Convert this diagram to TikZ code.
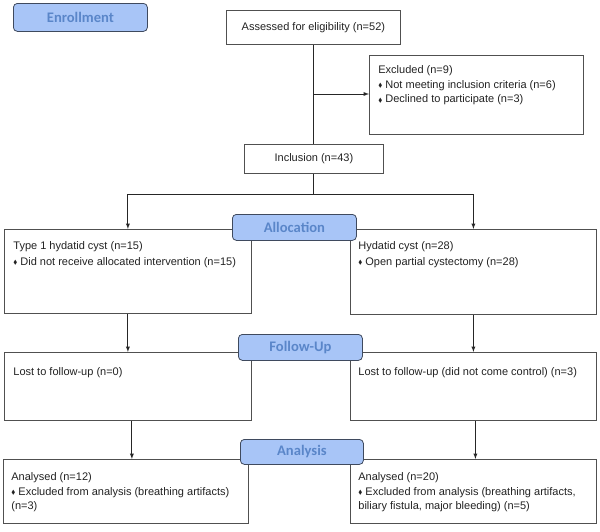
\documentclass[tikz,border=0pt]{standalone}
\usepackage{amssymb}
\usepackage{fontspec}
\setmainfont{Liberation Sans}
\newfontfamily\labelfont{Carlito}
\usetikzlibrary{arrows}
\usetikzlibrary{positioning}
\definecolor{stagefill}{HTML}{A8C5F7}
\definecolor{stagetext}{HTML}{5A86C9}
\definecolor{stageline}{HTML}{3F4A5E}
\definecolor{boxline}{HTML}{505050}
\definecolor{inktext}{HTML}{222222}
\newcommand{\itemmark}{\raisebox{0.15ex}{\scalebox{0.55}{$\blacklozenge$}}\hspace{3pt}}
\newcommand{\topbox}[3]{\parbox[t][#2][t]{#1}{#3}}

\begin{document}
\begin{tikzpicture}[x=1pt, y=-1pt, >=latex,
    stage/.style={draw=stageline, fill=stagefill, rounded corners=4pt, line width=0.8pt,
      text=stagetext, font=\labelfont\bfseries\fontsize{14.6}{16}\selectfont,
      minimum width=124pt, minimum height=26pt, inner sep=0pt, anchor=north west},
    flowbox/.style={draw=boxline, line width=0.8pt, text=inktext, anchor=north west,
      font=\fontsize{11}{14.8}\selectfont, align=left},
    flow/.style={draw=black!85, line width=0.9pt}]
  \useasboundingbox (0,0) rectangle (600,531);

  % enrollment
  \node[stage, minimum width=134pt, minimum height=28pt] (enroll) at (13,3) {Enrollment};
  \node[flowbox, minimum width=174pt, minimum height=34pt, inner sep=0pt, align=center] (assess) at (226,10)
    {Assessed for eligibility (n=52)};
  \node[flowbox, inner xsep=9pt, inner ysep=10pt] (excl) at (369,55)
    {\topbox{196pt}{59pt}{Excluded (n=9)\\
      \itemmark Not meeting inclusion criteria (n=6)\\
      \itemmark Declined to participate (n=3)}};
  \node[flowbox, minimum width=139pt, minimum height=29pt, inner sep=0pt, align=center] (incl) at (244,144)
    {Inclusion (n=43)};

  % allocation
  \node[flowbox, inner xsep=9pt, inner ysep=12pt] (typeA) at (4,229)
    {\topbox{229pt}{60pt}{Type 1 hydatid cyst (n=15)\\[1pt]
      \itemmark Did not receive allocated intervention (n=15)}};
  \node[flowbox, inner xsep=8pt, inner ysep=12pt] (typeB) at (350,229)
    {\topbox{230pt}{61pt}{Hydatid cyst (n=28)\\[1pt]
      \itemmark Open partial cystectomy (n=28)}};

  % follow-up
  \node[flowbox, inner xsep=9pt, inner ysep=15pt] (lostA) at (4,352)
    {\topbox{229pt}{38pt}{Lost to follow-up (n=0)}};
  \node[flowbox, inner xsep=8pt, inner ysep=15pt] (lostB) at (350,352)
    {\topbox{230pt}{38pt}{Lost to follow-up (did not come control) (n=3)}};

  % analysis
  \node[flowbox, inner xsep=8pt, inner ysep=13pt] (anaA) at (3,459)
    {\topbox{229pt}{38pt}{Analysed (n=12)\\
      \itemmark Excluded from analysis (breathing artifacts)\\
      (n=3)}};
  \node[flowbox, inner xsep=8pt, inner ysep=13pt] (anaB) at (350,459)
    {\topbox{230pt}{38pt}{Analysed (n=20)\\
      \itemmark Excluded from analysis (breathing artifacts,\\
      biliary fistula, major bleeding) (n=5)}};

  % connectors
  \coordinate (split) at (313,94);
  \coordinate (fork) at (313,194);
  \draw[flow] (assess.south) -- (assess.south |- incl.north);
  \draw[flow, ->] (split) -- (excl.west |- split);
  \draw[flow] (fork |- incl.south) -- (fork);
  \draw[flow, ->] (fork) -| (typeA.north);
  \draw[flow, ->] (fork) -| (typeB.north);
  \draw[flow, ->] (typeA.south) -- (lostA.north);
  \draw[flow, ->] (typeB.south) -- (lostB.north);
  \draw[flow, ->] ([xshift=4pt]lostA.south) -- ([xshift=4pt]anaA.north -| lostA.south);
  \draw[flow, ->] ([xshift=2pt]lostB.south) -- ([xshift=2pt]anaB.north -| lostB.south);

  % stage labels
  \node[stage] (alloc) at (232,214) {Allocation};
  \node[stage] (follow) at (238,334) {Follow-Up};
  \node[stage, minimum width=123pt, minimum height=25pt] (analysis) at (240,439) {Analysis};
\end{tikzpicture}
\end{document}
